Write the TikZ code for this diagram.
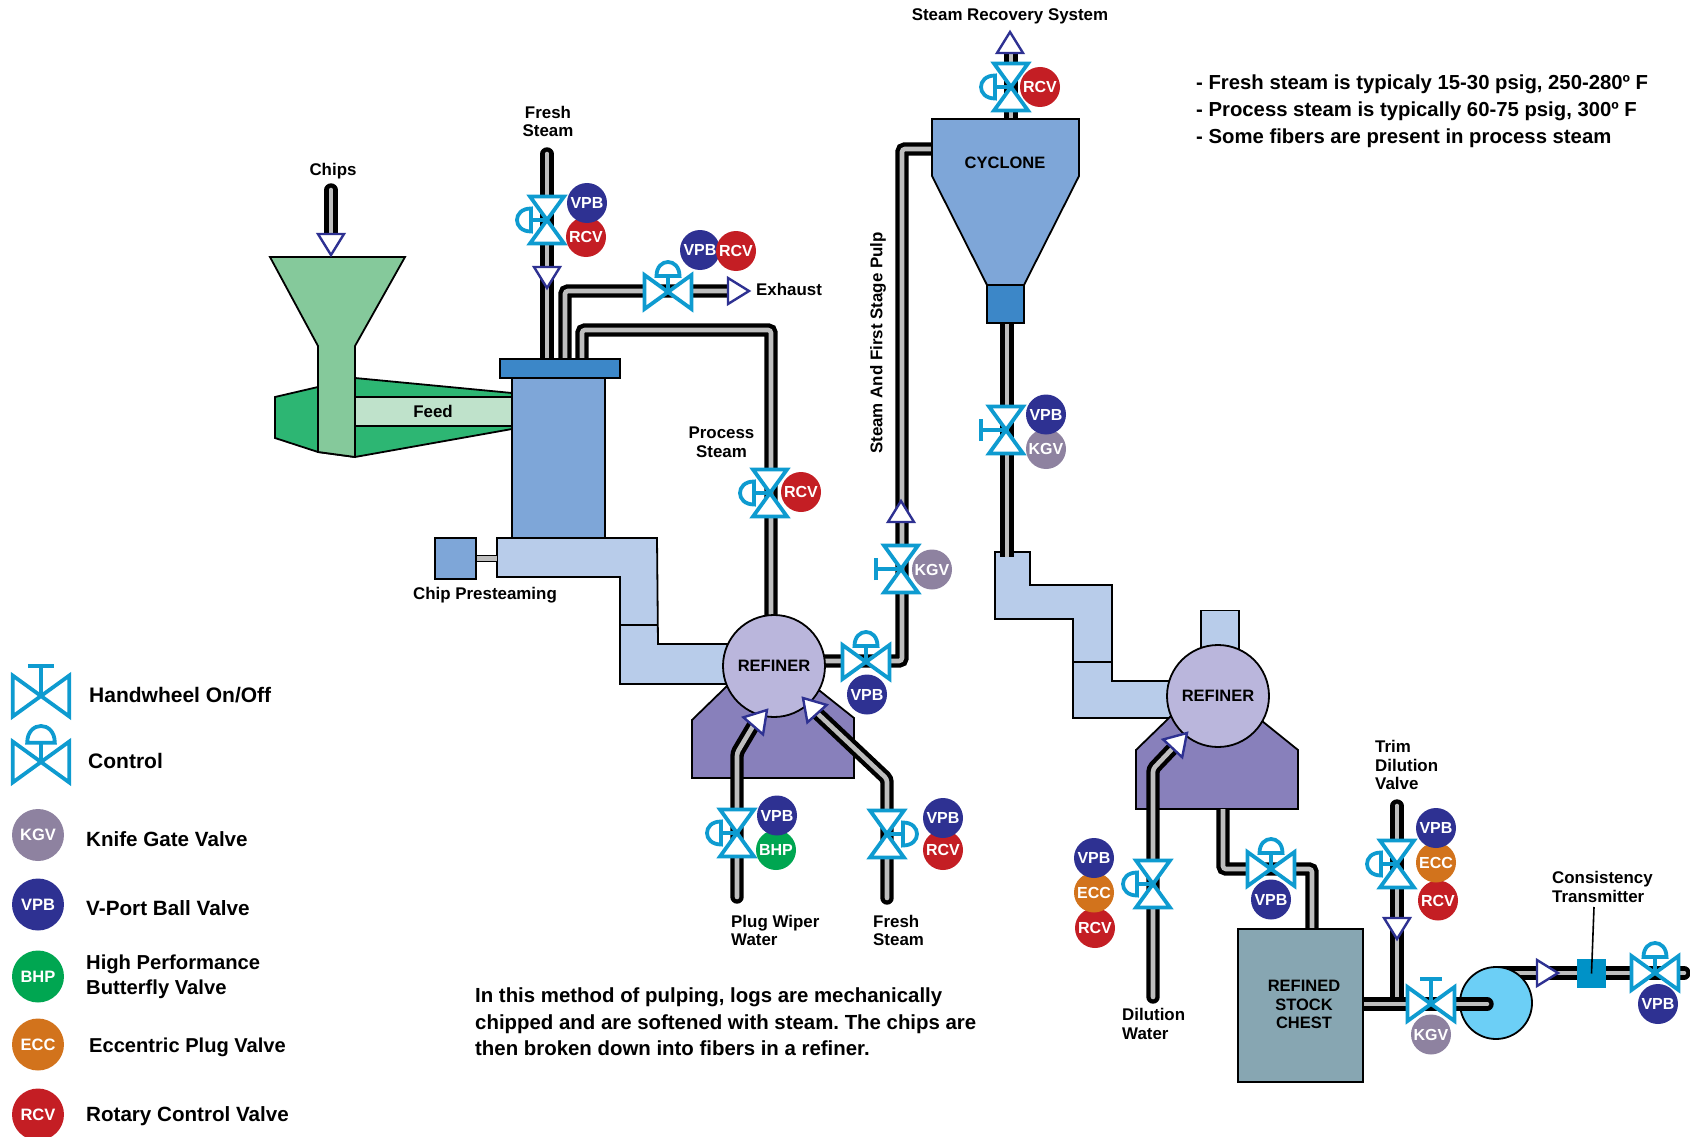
\documentclass[tikz,border=0pt]{standalone}
\usepackage{fontspec}
\setmainfont{Liberation Sans}
\frenchspacing
\definecolor{cnavy}{HTML}{2E3192}
\definecolor{cred}{HTML}{C41E24}
\definecolor{cgreen}{HTML}{00A651}
\definecolor{corange}{HTML}{D2731C}
\definecolor{ckgv}{HTML}{8E82A0}
\definecolor{cvalve}{HTML}{0E9BD0}
\definecolor{cpipe}{HTML}{BEBEBE}
\definecolor{cblue}{HTML}{7EA6D8}
\definecolor{cdblue}{HTML}{3C87C8}
\definecolor{cduct}{HTML}{B8CCEA}
\definecolor{cref}{HTML}{BAB6DC}
\definecolor{cbase}{HTML}{8880BB}
\definecolor{cchest}{HTML}{87A6B2}
\definecolor{cfun}{HTML}{85C99B}
\definecolor{cfeed}{HTML}{2DB673}
\definecolor{cfeedl}{HTML}{BFE2CB}
\definecolor{cpump}{HTML}{6CCFF6}
\definecolor{ctrans}{HTML}{0092C7}
\pgfdeclarelayer{back}\pgfdeclarelayer{pipes}\pgfsetlayers{back,pipes,main}
\newcommand{\valvebody}{%
    \draw[vl,fill=white] (0,0)--(-23.5,-17)--(-23.5,17)--cycle;
    \draw[vl,fill=white] (0,0)--(23.5,-17)--(23.5,17)--cycle;
    \coordinate (-c) at (0,0);}
\tikzset{
  x=1pt,y=-1pt,
  vl/.style={draw=cvalve,line width=3.8pt,line join=miter},
  pipe/.style={line width=4.4pt,double=cpipe,double distance=4.6pt,line cap=round,rounded corners=3pt,draw=black},
  thinpipe/.style={line width=1.4pt,double=cpipe,double distance=5pt,draw=black},
  equip/.style={draw=black,line width=1.8pt,line join=miter},
  box/.style={equip,inner sep=0pt,outer sep=0pt},
  badge/.style={circle,minimum size=40pt,inner sep=0pt,text=white,font=\fontsize{16}{18}\selectfont\bfseries},
  lbadge/.style={circle,minimum size=52pt,inner sep=0pt,text=white,font=\fontsize{16.5}{18}\selectfont\bfseries},
  lab/.style={inner sep=0pt,align=center,font=\fontsize{16.9}{18.5}\selectfont\bfseries},
  labl/.style={inner sep=0pt,align=left,anchor=west,font=\fontsize{16.9}{18.5}\selectfont\bfseries},
  leg/.style={inner sep=0pt,align=left,anchor=west,font=\fontsize{#1}{25}\selectfont\bfseries},
  para/.style={inner sep=0pt,align=left,anchor=west,font=\fontsize{20.4}{26.5}\selectfont\bfseries},
  ctrlv/.pic={
    \draw[vl] (0,0)--(0,-16);
    \draw[vl,fill=white] (-11.5,-16) .. controls (-11.5,-34.7) and (11.5,-34.7) .. (11.5,-16) -- cycle;
    \valvebody
  },
  handv/.pic={
    \draw[vl] (0,0)--(0,-25);
    \draw[vl] (-11,-25)--(11,-25);
    \valvebody
  },
  tip/.pic={
    \draw[draw=cnavy,line width=2.4pt,fill=white,line join=miter] (0,0)--(-21,-13)--(-21,13)--cycle;
    \coordinate (-c) at (0,0);
  },
}
\begin{document}
\begin{tikzpicture}
\useasboundingbox (0,0) rectangle (1690,1137);
\begin{scope}[yshift=-1pt]
%---------- background shapes
\begin{pgfonlayer}{back}
  \draw[equip,fill=cfeed] (275,396)--(318,386)--(355,377)--(512,392)--(512,428)--(355,456)--(318,451)--(275,437)--cycle;
  \node[box,fill=cfeedl,minimum width=157pt,minimum height=29pt] (feed) at (433.5,410.5) {};
  \draw[equip,fill=cfun] (270,256)--(405,256)--(355,345)--(355,456)--(318,451)--(318,345)--cycle;
  \draw[equip,fill=cduct] (497,537)--(657,537)--(658,643)--(732,643)--(732,683)--(620,683)--(620,576)--(497,576)--cycle;
  \draw[equip] (620,624)--(658,624);
  \draw[equip,fill=cduct] (995,551)--(1030,551)--(1030,584)--(1112,584)--(1112,680)--(1180,680)--(1180,717)--(1073,717)--(1073,618)--(995,618)--cycle;
  \draw[equip] (1073,661)--(1112,661);
  \node[box,fill=cduct,minimum width=38pt,minimum height=45pt] (chimney) at (1220,632) {};
  \draw[equip,fill=cbase] (727,685)--(692,719)--(692,777)--(854,777)--(854,717)--(820,690)--cycle;
  \draw[equip,fill=cbase] (1171,715)--(1136,749)--(1136,808)--(1298,808)--(1298,749)--(1262,720)--cycle;
\end{pgfonlayer}
%---------- equipment nodes
\node[box,fill=cblue,minimum width=93pt,minimum height=160pt] (column) at (558.5,457) {};
\node[box,fill=cdblue,minimum width=120pt,minimum height=19pt] (flange) at (560,367.5) {};
\node[box,fill=cblue,minimum width=41pt,minimum height=41pt] (preheat) at (455.5,557.5) {};
\coordinate (ductL) at (497,557.5);
\draw[equip,fill=cblue] (932,118)--(1079,118)--(1079,175)--(1024,284)--(987,284)--(932,175)--cycle;
\coordinate (cycL) at (932,148);
\coordinate (cycT) at (1011,118);
\node[box,fill=cdblue,minimum width=37pt,minimum height=38pt] (throat) at (1005.5,303) {};
\node[box,circle,fill=cref,minimum size=102pt] (ref1) at (774,665) {};
\node[box,circle,fill=cref,minimum size=102pt] (ref2) at (1218,695) {};
\node[box,circle,fill=cpump,minimum size=72pt] (pump) at (1496,1002) {};
\node[fill=ctrans,inner sep=0pt,minimum width=29pt,minimum height=29pt] (trans) at (1591.5,972.5) {};
%---------- pipes
\coordinate (chipsTop) at (331,189);
\coordinate (chipsEnd) at (331,233);
\coordinate (fs1Top) at (547,153);
\coordinate (exhA) at (565,358);
\coordinate (exhB) at (565,290);
\coordinate (exhC) at (728,290);
\coordinate (prA) at (582,358);
\coordinate (prB) at (582,329);
\coordinate (prC) at (771,329);
\coordinate (prD) at (771,625);
\coordinate (pwA) at (737,896);
\coordinate (pwB) at (737,752);
\coordinate (pwC) at (753,725);
\coordinate (fs2A) at (887,897);
\coordinate (fs2B) at (887,778);
\coordinate (fs2C) at (817,712);
\coordinate (outA) at (810,660);
\coordinate (outB) at (902,660);
\coordinate (outC) at (902,148);
\coordinate (srA) at (1011,52);
\coordinate (dnB) at (1007,556);
\coordinate (dwA) at (1153,996);
\coordinate (dwB) at (1153,768);
\coordinate (dwC) at (1172,748);
\coordinate (o2A) at (1223,808);
\coordinate (o2B) at (1223,868);
\coordinate (o2C) at (1312,868);
\coordinate (o2D) at (1312,928);
\coordinate (trA) at (1397,805);
\coordinate (trB) at (1397,1000);
\coordinate (mainA) at (1355,1003);
\coordinate (mainB) at (1487,1003);
\coordinate (stA) at (1496,972);
\coordinate (stB) at (1684,972);
\begin{pgfonlayer}{pipes}
  \draw[pipe] (chipsTop)--(chipsEnd);
  \draw[pipe] (fs1Top)--(fs1Top |- flange.north);
  \draw[pipe] (exhA)--(exhB)--(exhC);
  \draw[pipe] (prA)--(prB)--(prC)--(prD);
  \draw[pipe] (pwA)--(pwB)--(pwC);
  \draw[pipe] (fs2A)--(fs2B)--(fs2C);
  \draw[pipe] (outA)--(outB)--(outC)--(cycL);
  \draw[pipe,line cap=butt] (srA)--(cycT);
  \draw[pipe,line cap=butt] (throat.south -| dnB)--(dnB);
  \draw[pipe] (dwA)--(dwB)--(dwC);
  \draw[pipe,line cap=butt] (o2A)--(o2B)--(o2C)--(o2D);
  \draw[pipe] (trA)--(trB);
  \draw[pipe] (stA)--(stB);
  \draw[thinpipe] (preheat.east |- ductL)--(ductL);
\end{pgfonlayer}
\draw[pipe] (mainA)--(mainB);
\node[box,fill=cchest,minimum width=125pt,minimum height=153pt] (chest) at (1300.5,1004.5) {};
\draw[line width=1.6pt,black] (1594,906)--(trans.center);
%---------- arrow tips
\pic[rotate=-90] (a1) at (331,254) {tip};
\pic[rotate=-90] (a2) at (547,287) {tip};
\pic (a3) at (749,290) {tip};
\pic[rotate=49] (a4) at (767,709) {tip};
\pic[rotate=132] (a5) at (803,697) {tip};
\pic[rotate=90] (a6) at (901,500) {tip};
\pic[rotate=90] (a7) at (1010,31) {tip};
\pic[rotate=47] (a8) at (1187,732) {tip};
\pic[rotate=-90] (a9) at (1397,938) {tip};
\pic (a10) at (1558,972) {tip};
%---------- valves
\pic[rotate=90] (v1) at (547,219) {ctrlv};
\pic (v2) at (668,291) {ctrlv};
\pic[rotate=90] (v3) at (770,492) {ctrlv};
\pic (v4) at (866,661) {ctrlv};
\pic[rotate=90] (v5) at (901,568) {handv};
\pic[rotate=90] (v6) at (737,832) {ctrlv};
\pic[rotate=-90] (v7) at (887,833) {ctrlv};
\pic[rotate=90] (v8) at (1011,86) {ctrlv};
\pic[rotate=90] (v9) at (1006,429) {handv};
\pic[rotate=90] (v10) at (1153,883) {ctrlv};
\pic (v11) at (1271,868) {ctrlv};
\pic[rotate=90] (v12) at (1397,863) {ctrlv};
\pic (v13) at (1431,1003) {handv};
\pic (v14) at (1655,972) {ctrlv};
%---------- badges
\node[badge,fill=cred] (b1r) at (586,236) {RCV};
\node[badge,fill=cnavy] (b1v) at (587,202) {VPB};
\node[badge,fill=cnavy] (b2v) at (700,249) {VPB};
\node[badge,fill=cred] (b2r) at (736,250) {RCV};
\node[badge,fill=cred] (b3r) at (801,491) {RCV};
\node[badge,fill=cnavy] (b4v) at (867,693.5) {VPB};
\node[badge,fill=ckgv] (b5k) at (932,568.5) {KGV};
\node[badge,fill=cgreen] (b6b) at (776,849) {BHP};
\node[badge,fill=cnavy] (b6v) at (777,814.5) {VPB};
\node[badge,fill=cred] (b7r) at (943,849) {RCV};
\node[badge,fill=cnavy] (b7v) at (943,817) {VPB};
\node[badge,fill=cred] (b8r) at (1040,86) {RCV};
\node[badge,fill=ckgv] (b9k) at (1046,448) {KGV};
\node[badge,fill=cnavy] (b9v) at (1046,413.5) {VPB};
\node[badge,fill=cred] (b10r) at (1095,927) {RCV};
\node[badge,fill=corange] (b10e) at (1094,891.5) {ECC};
\node[badge,fill=cnavy] (b10v) at (1094,857) {VPB};
\node[badge,fill=cnavy] (b11v) at (1271,898.5) {VPB};
\node[badge,fill=cred] (b12r) at (1438,899.5) {RCV};
\node[badge,fill=corange] (b12e) at (1436,861.5) {ECC};
\node[badge,fill=cnavy] (b12v) at (1436,827) {VPB};
\node[badge,fill=ckgv] (b13k) at (1431,1033.5) {KGV};
\node[badge,fill=cnavy] (b14v) at (1658,1003) {VPB};
%---------- labels
\node[lab] (tChips) at (333,170) {Chips};
\node[lab] (tFresh1) at (548,120.5) {Fresh\\Steam};
\node[lab] (tFeed) at (433,410.5) {Feed};
\node[labl] (tExh) at (756,288) {Exhaust};
\node[lab] (tProc) at (721.5,441.5) {Process\\Steam};
\node[lab] (tChip) at (485,594) {Chip Presteaming};
\node[lab,rotate=90] (tPulp) at (878,342) {Steam And First Stage Pulp};
\node[lab] (tSRS) at (1010,15.5) {Steam Recovery System};
\node[lab,font=\fontsize{16.5}{18.5}\selectfont\bfseries] (tCyc) at (1005,161.5) {CYCLONE};
\node[lab,font=\fontsize{16.5}{18.5}\selectfont\bfseries] (tRef1) at (774,665) {REFINER};
\node[lab,font=\fontsize{16.5}{18.5}\selectfont\bfseries] (tRef2) at (1218,695) {REFINER};
\node[lab,font=\fontsize{16.5}{18.5}\selectfont\bfseries] (tChest) at (1304,1003.5) {REFINED\\STOCK\\CHEST};
\node[labl] (tPW) at (731,929.5) {Plug Wiper\\Water};
\node[labl] (tFS2) at (873,929.5) {Fresh\\Steam};
\node[labl] (tDil) at (1122,1023) {Dilution\\Water};
\node[labl] (tTrim) at (1375,764) {Trim\\Dilution\\Valve};
\node[labl] (tCons) at (1552,886) {Consistency\\Transmitter};
\node[para] (tPara) at (475,1021) {In this method of pulping, logs are mechanically\\chipped and are softened with steam. The chips are\\then broken down into fibers in a refiner.};
\node[para,font=\fontsize{20.3}{27}\selectfont\bfseries] (tNotes) at (1196,110) {- Fresh steam is typicaly 15-30 psig, 250-280º F\\- Process steam is typically 60-75 psig, 300º F\\- Some fibers are present in process steam};
%---------- legend
\pic[scale=1.2] (lv1) at (41,695) {handv};
\pic[scale=1.2] (lv2) at (41,761) {ctrlv};
\node[lbadge,fill=ckgv] (lk) at (38,834) {KGV};
\node[lbadge,fill=cnavy] (lv) at (38,903.5) {VPB};
\node[lbadge,fill=cgreen] (lb) at (38,975.5) {BHP};
\node[lbadge,fill=corange] (le) at (38,1043.5) {ECC};
\node[lbadge,fill=cred] (lr) at (38,1113.5) {RCV};
\node[leg=21] (t1) at (89,694) {Handwheel On/Off};
\node[leg=21] (t2) at (88,760) {Control};
\node[leg=20.6] (t3) at (86,838) {Knife Gate Valve};
\node[leg=20.7] (t4) at (86,907) {V-Port Ball Valve};
\node[leg=20.2] (t5) at (86,976) {High Performance\\Butterfly Valve};
\node[leg=20.1] (t6) at (89,1046.5) {Eccentric Plug Valve};
\node[leg=20.6] (t7) at (86,1115) {Rotary Control Valve};
\end{scope}
\end{tikzpicture}
\end{document}
